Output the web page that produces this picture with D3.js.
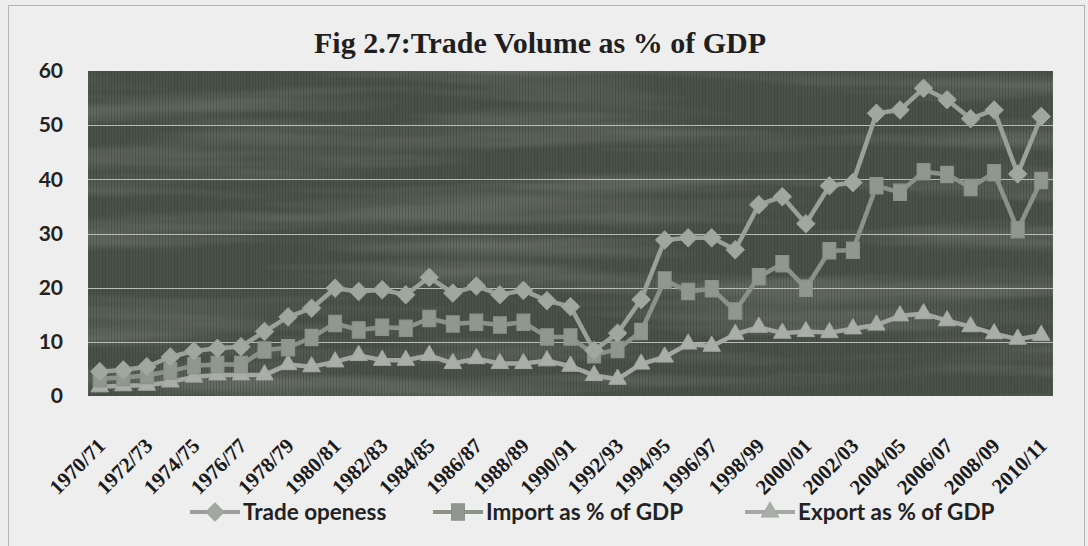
<!DOCTYPE html>
<html>
<head>
<meta charset="utf-8">
<script src="https://cdn.jsdelivr.net/npm/d3@7.9.0/dist/d3.min.js"></script>
<style>
  html, body { margin: 0; padding: 0; background: #ededee; }
  svg { display: block; }
</style>
</head>
<body>
<svg id="chart" width="1088" height="546"></svg>
<script>
// category labels, one per fiscal year
const years = [
  "1970/71","1971/72","1972/73","1973/74","1974/75","1975/76","1976/77","1977/78",
  "1978/79","1979/80","1980/81","1981/82","1982/83","1983/84","1984/85","1985/86",
  "1986/87","1987/88","1988/89","1989/90","1990/91","1991/92","1992/93","1993/94",
  "1994/95","1995/96","1996/97","1997/98","1998/99","1999/00","2000/01","2001/02",
  "2002/03","2003/04","2004/05","2005/06","2006/07","2007/08","2008/09","2009/10",
  "2010/11"
];

// values (% of GDP)
const tradeOpeness = [
  4.5, 4.8, 5.4, 7.2, 8.3, 8.8, 9.1, 11.9, 14.6, 16.2,
  19.9, 19.3, 19.6, 18.7, 21.9, 19.0, 20.3, 18.7, 19.5, 17.6,
  16.5, 8.4, 11.6, 17.8, 28.8, 29.2, 29.2, 27.0, 35.3, 36.8,
  31.8, 38.8, 39.4, 52.2, 52.8, 56.8, 54.7, 51.2, 52.8, 41.0,
  51.6
];
const importShare = [
  3.2, 3.4, 3.8, 4.6, 5.6, 5.8, 5.8, 8.5, 8.9, 10.8,
  13.4, 12.2, 12.7, 12.5, 14.3, 13.3, 13.6, 13.1, 13.6, 10.9,
  10.9, 7.6, 8.6, 11.9, 21.4, 19.3, 19.8, 15.7, 22.0, 24.4,
  19.9, 26.8, 26.9, 38.8, 37.6, 41.4, 40.9, 38.5, 41.2, 30.7,
  39.8
];
const exportShare = [
  1.7, 1.9, 2.0, 2.6, 3.5, 3.9, 3.9, 3.9, 5.8, 5.4,
  6.3, 7.5, 6.6, 6.6, 7.5, 6.0, 6.9, 6.0, 6.0, 6.5,
  5.5, 3.8, 3.1, 5.9, 7.2, 9.6, 9.2, 11.4, 12.7, 11.6,
  11.9, 11.7, 12.4, 13.1, 14.8, 15.2, 13.9, 12.8, 11.5, 10.5,
  11.2
];
const seriesNames = ["Trade openess", "Import as % of GDP", "Export as % of GDP"];
const yTicks = [0, 10, 20, 30, 40, 50, 60];

const svg = d3.select("#chart");
const W = 1088, H = 546;
const plot = { left: 88, right: 1053, top: 71, bottom: 396 };
const serif = "'Liberation Serif', 'Times New Roman', serif";
const sans = "Lato, 'Open Sans', sans-serif";

// chart frame
svg.append("rect")
  .attr("x", 8.5).attr("y", 5.5)
  .attr("width", W - 12).attr("height", H - 4)
  .attr("fill", "#eeeeef")
  .attr("stroke", "#b4b4b4");

// textured plot background
const defs = svg.append("defs");
const grain = defs.append("filter").attr("id", "grain")
  .attr("x", 0).attr("y", 0).attr("width", 1).attr("height", 1);
grain.append("feTurbulence")
  .attr("type", "fractalNoise")
  .attr("baseFrequency", "0.003 0.04")
  .attr("numOctaves", 3)
  .attr("seed", 11);
grain.append("feColorMatrix")
  .attr("type", "matrix")
  .attr("values", "0 0 0 0 0.6  0 0 0 0 0.64  0 0 0 0 0.59  1.5 0 0 0 -0.62");

const stripes = defs.append("pattern").attr("id", "stripes")
  .attr("patternUnits", "userSpaceOnUse")
  .attr("width", 3).attr("height", 4);
stripes.append("rect").attr("width", 1).attr("height", 4).attr("fill", "#2e342d").attr("opacity", 0.3);

const bg = svg.append("g");
["#4a5148", "url(#stripes)"].forEach((f, i) => {
  bg.append("rect")
    .attr("x", plot.left).attr("y", plot.top)
    .attr("width", plot.right - plot.left).attr("height", plot.bottom - plot.top)
    .attr("fill", f);
  if (i === 0) {
    bg.append("rect")
      .attr("x", plot.left).attr("y", plot.top)
      .attr("width", plot.right - plot.left).attr("height", plot.bottom - plot.top)
      .attr("filter", "url(#grain)")
      .attr("opacity", 0.35);
  }
});

// scales
const x = d3.scaleBand().domain(years).range([plot.left, plot.right]).padding(0);
const cx = d => x(d) + x.bandwidth() / 2;
const y = d3.scaleLinear().domain([0, 60]).range([plot.bottom, plot.top]);

// gridlines
svg.append("g")
  .selectAll("line")
  .data(yTicks.filter(t => t > 0 && t < 60))
  .join("line")
  .attr("x1", plot.left).attr("x2", plot.right)
  .attr("y1", d => Math.round(y(d)) + 0.5).attr("y2", d => Math.round(y(d)) + 0.5)
  .attr("stroke", "#b9bdb8")
  .attr("stroke-width", 1.2);

// y axis
const yAxis = svg.append("g")
  .attr("transform", `translate(${plot.left},0)`)
  .call(d3.axisLeft(y).tickValues(yTicks).tickSize(0).tickPadding(25));
yAxis.select(".domain").remove();
yAxis.selectAll("text")
  .style("font-family", sans)
  .style("font-weight", "bold")
  .style("font-size", "21px")
  .attr("fill", "#222");

// x axis: every other year
const xAxis = svg.append("g")
  .attr("transform", `translate(0,${plot.bottom})`)
  .call(d3.axisBottom(x).tickValues(years.filter((d, i) => i % 2 === 0)).tickSize(0));
xAxis.attr("font-family", serif);
xAxis.select(".domain").remove();
xAxis.selectAll("text")
  .style("font-family", serif)
  .style("font-weight", "bold")
  .style("font-size", "21px")
  .attr("fill", "#1a1a1a")
  .attr("text-anchor", "end")
  .attr("dy", null)
  .attr("y", 0)
  .attr("transform", "translate(7,51) rotate(-45)");

// title
svg.append("text")
  .attr("x", 540).attr("y", 53)
  .attr("text-anchor", "middle")
  .style("font-family", serif)
  .style("font-weight", "bold")
  .style("font-size", "30px")
  .attr("fill", "#1f1f1f")
  .text("Fig 2.7:Trade Volume as % of GDP");

// markers
const symbols = [
  { type: d3.symbolDiamond2, size: 220, fill: "#a0a79f", line: "#9aa199", sy: 1 },
  { type: d3.symbolSquare2, size: 215, fill: "#8f978e", line: "#8b9389", sy: 1.25 },
  { type: d3.symbolTriangle2, size: 220, fill: "#a9afa8", line: "#a3a9a2", sy: 1 }
];
const data = [tradeOpeness, importShare, exportShare];

const line = d3.line().x((d, i) => cx(years[i])).y(d => y(d));

// draw export first so trade sits on top
[2, 1, 0].forEach(k => {
  const s = symbols[k];
  const g = svg.append("g");
  g.append("path")
    .datum(data[k])
    .attr("d", line)
    .attr("fill", "none")
    .attr("stroke", s.line)
    .attr("stroke-width", 4.5)
    .attr("stroke-linejoin", "round");
  g.selectAll("path.mk")
    .data(data[k])
    .join("path")
    .attr("class", "mk")
    .attr("d", d3.symbol().type(s.type).size(s.size))
    .attr("transform", (d, i) => `translate(${cx(years[i])},${y(d)}) scale(1,${s.sy})`)
    .attr("fill", s.fill)
    .attr("stroke", s.line)
    .attr("stroke-width", 1);
});

// legend
const legendItems = [
  { x: 190, k: 0 },
  { x: 433, k: 1 },
  { x: 745, k: 2 }
];
const legend = svg.append("g").attr("transform", "translate(0,512)");
legendItems.forEach(it => {
  const s = symbols[it.k];
  legend.append("line")
    .attr("x1", it.x).attr("x2", it.x + 50)
    .attr("y1", 0).attr("y2", 0)
    .attr("stroke", s.line).attr("stroke-width", 4);
  legend.append("path")
    .attr("d", d3.symbol().type(s.type).size(s.size))
    .attr("transform", `translate(${it.x + 25},0) scale(1,${s.sy})`)
    .attr("fill", s.fill).attr("stroke", s.line);
  legend.append("text")
    .attr("x", it.x + 53).attr("y", 0)
    .attr("dy", "0.35em")
    .style("font-family", sans)
    .style("font-weight", "bold")
    .style("font-size", "22.5px")
    .attr("fill", "#222")
    .text(seriesNames[it.k]);
});
</script>
</body>
</html>
